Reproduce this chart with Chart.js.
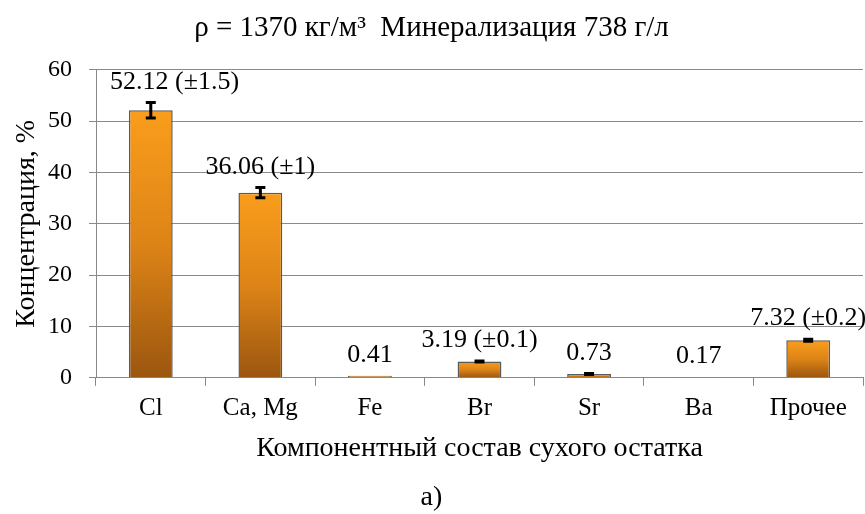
<!DOCTYPE html>
<html>
<head>
<meta charset="utf-8">
<script src="https://cdn.jsdelivr.net/npm/chart.js@4.4.1/dist/chart.umd.min.js"></script>
<style>
  html, body { margin: 0; padding: 0; background: #fff; }
  #wrap { width: 865px; height: 514px; }
</style>
</head>
<body>
<div id="wrap"><canvas id="grafica"></canvas></div>
<script>
// datos del grafico
const categorias = ['Cl', 'Ca, Mg', 'Fe', 'Br', 'Sr', 'Ba', 'Прочее'];
const concentracion = [52.12, 36.06, 0.41, 3.19, 0.73, 0.17, 7.32];
const errores = [1.5, 1, 0, 0.1, 0.1, 0, 0.2];
const etiquetas = ['52.12 (±1.5)', '36.06 (±1)', '0.41', '3.19 (±0.1)', '0.73', '0.17', '7.32 (±0.2)'];

const FUENTE = '"Liberation Serif", "Times New Roman", serif';

// gradiente por barra (naranja arriba, marron abajo)
function colorBarra(ctx) {
    const chart = ctx.chart;
    const y = chart.scales && chart.scales.y;
    if (!y || ctx.type !== 'data') return '#e8891a';
    const top = y.getPixelForValue(ctx.parsed.y);
    const base = y.getPixelForValue(0);
    if (!isFinite(top) || !isFinite(base) || base - top < 1) return '#c67416';
    const g = chart.ctx.createLinearGradient(0, top, 0, base);
    g.addColorStop(0, '#fa9d1c');
    g.addColorStop(0.5, '#dd8417');
    g.addColorStop(1, '#9b560f');
    return g;
}

// barras de error + etiquetas
const pluginErrores = {
    id: 'errores',
    afterDatasetsDraw(chart) {
        const ctx = chart.ctx;
        const meta = chart.getDatasetMeta(0);
        const y = chart.scales.y;
        const izq = chart.chartArea.left + 14;
        ctx.save();
        meta.data.forEach((bar, i) => {
            const v = concentracion[i];
            const e = errores[i];
            const yTop = y.getPixelForValue(v + e);
            const yBot = y.getPixelForValue(v - e);
            ctx.strokeStyle = '#000';
            ctx.lineWidth = 3;
            if (e > 0) {
                ctx.beginPath();
                ctx.moveTo(bar.x, yTop);
                ctx.lineTo(bar.x, yBot);
                ctx.moveTo(bar.x - 5, yTop);
                ctx.lineTo(bar.x + 5, yTop);
                ctx.moveTo(bar.x - 5, yBot);
                ctx.lineTo(bar.x + 5, yBot);
                ctx.stroke();
            }
            ctx.fillStyle = '#000';
            ctx.font = '26px ' + FUENTE;
            ctx.textAlign = 'center';
            ctx.textBaseline = 'alphabetic';
            // no dejar que la etiqueta choque con el eje
            const w = ctx.measureText(etiquetas[i]).width;
            const x = Math.max(bar.x, izq + w / 2);
            ctx.fillText(etiquetas[i], x, yTop - 14);
        });
        ctx.restore();
    }
};

new Chart(document.getElementById('grafica'), {
    type: 'bar',
    data: {
        labels: categorias,
        datasets: [{
            data: concentracion,
            backgroundColor: colorBarra,
            borderColor: '#5a5a5a',
            borderWidth: 1.5,
            barPercentage: 0.5,
            categoryPercentage: 0.8
        }]
    },
    options: {
        responsive: true,
        maintainAspectRatio: false,
        animation: false,
        layout: { padding: { left: 0, right: 2, top: 11, bottom: 0 } },
        plugins: {
            legend: { display: false },
            tooltip: { enabled: false },
            title: {
                display: true,
                text: 'ρ = 1370 кг/м³  Минерализация 738 г/л',
                color: '#000',
                font: { family: FUENTE, size: 29, weight: 'normal' },
                padding: { top: 0, bottom: 24 }
            },
            subtitle: {
                display: true,
                position: 'bottom',
                text: 'а)',
                color: '#000',
                font: { family: FUENTE, size: 28, weight: 'normal' },
                padding: { top: 15, bottom: 0 }
            }
        },
        scales: {
            x: {
                grid: {
                    offset: true,
                    drawOnChartArea: false,
                    color: '#888',
                    tickLength: 8
                },
                border: { color: '#888', width: 1 },
                ticks: {
                    color: '#000',
                    padding: 8,
                    font: { family: FUENTE, size: 25 }
                },
                title: {
                    display: true,
                    text: 'Компонентный состав сухого остатка',
                    color: '#000',
                    font: { family: FUENTE, size: 28 },
                    padding: { top: 0, bottom: 0 }
                }
            },
            y: {
                min: 0,
                max: 60,
                afterFit(scale) { scale.width = 96; },
                ticks: {
                    stepSize: 10,
                    color: '#000',
                    padding: 17,
                    font: { family: FUENTE, size: 24 }
                },
                grid: { color: '#8a8a8a', tickLength: 7 },
                border: { color: '#888', width: 1 },
                title: {
                    display: true,
                    text: 'Концентрация, %',
                    color: '#000',
                    font: { family: FUENTE, size: 28 },
                    padding: { top: 10, bottom: 0 }
                }
            }
        }
    },
    plugins: [pluginErrores]
});
</script>
</body>
</html>
